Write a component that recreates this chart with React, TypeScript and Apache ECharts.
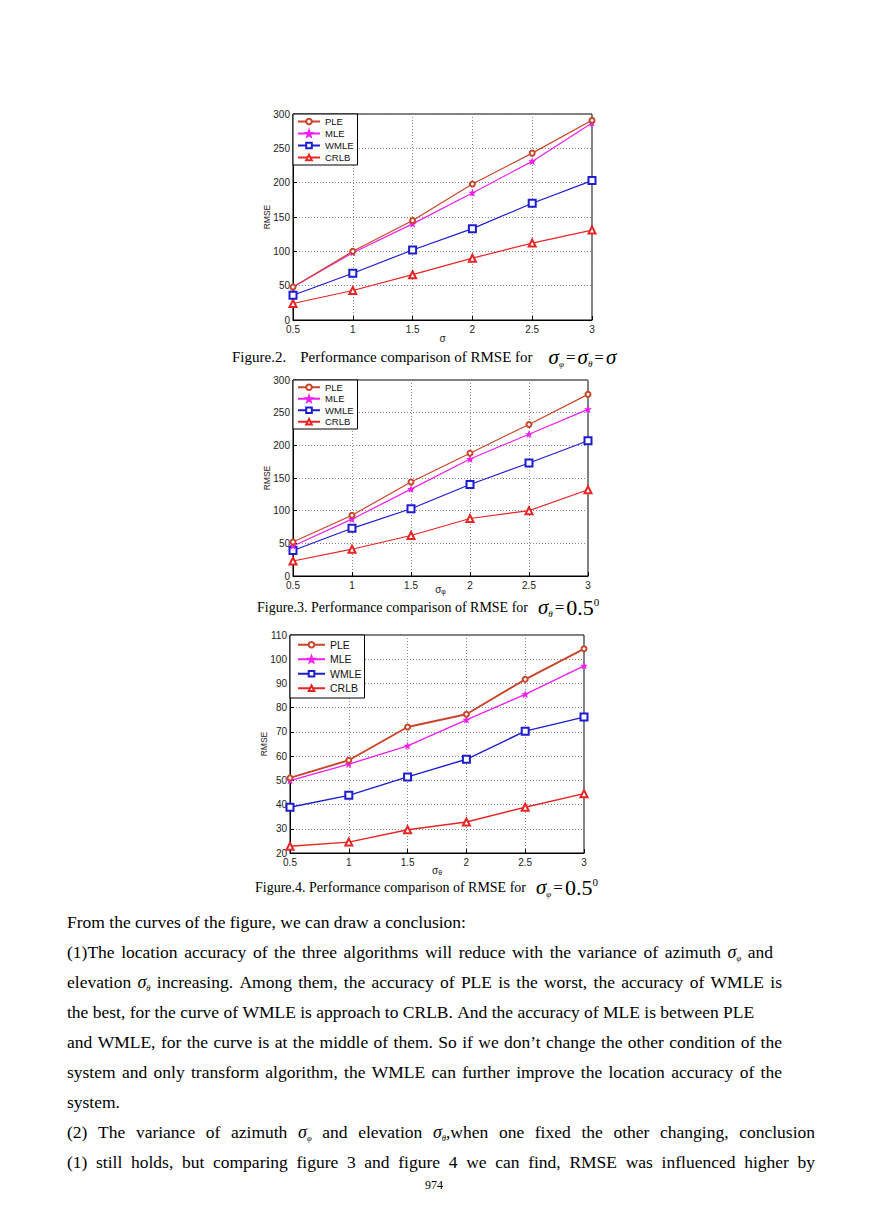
import React, { useEffect, useRef } from "react";
import * as echarts from "echarts";

// ---------- data ----------
const sigmaValues = [0.5, 1, 1.5, 2, 2.5, 3];
const seriesNames = ["PLE", "MLE", "WMLE", "CRLB"];
const rmseTicksFig23 = [0, 50, 100, 150, 200, 250, 300];
const rmseTicksFig4 = [20, 30, 40, 50, 60, 70, 80, 90, 100, 110];

const fig2PLE = [48, 100, 145, 198, 243, 291];
const fig2MLE = [48, 98, 140, 185, 231, 287];
const fig2WMLE = [36, 68, 102, 133, 170, 203];
const fig2CRLB = [24, 43, 66, 90, 112, 131];

const fig3PLE = [52, 93, 144, 188, 232, 278];
const fig3MLE = [46, 87, 133, 179, 217, 255];
const fig3WMLE = [39, 73, 103, 140, 173, 207];
const fig3CRLB = [23, 41, 62, 88, 100, 132];

const fig4PLE = [51, 58.3, 72, 77.3, 91.7, 104.3];
const fig4MLE = [49.9, 56.7, 64.2, 75, 85.5, 97.3];
const fig4WMLE = [38.9, 43.8, 51.4, 58.7, 70.3, 76.1];
const fig4CRLB = [22.8, 24.5, 29.6, 32.8, 38.9, 44.5];

// body text; "§p" = σ with φ subscript, "§t" = σ with θ subscript
const bodyLines = [
  "From the curves of the figure, we can draw a conclusion:",
  "(1)The location accuracy of the three algorithms will reduce with the variance of azimuth §p and",
  "elevation §t increasing. Among them, the accuracy of PLE is the worst, the accuracy of WMLE is",
  "the best, for the curve of WMLE is approach to CRLB. And the accuracy of MLE is between PLE",
  "and WMLE, for the curve is at the middle of them. So if we don\u2019t change the other condition of the",
  "system and only transform algorithm, the WMLE can further improve the location accuracy of the",
  "system.",
  "(2) The variance of azimuth §p and elevation §t,when one fixed the other changing, conclusion",
  "(1) still holds, but comparing figure 3 and figure 4 we can find, RMSE was influenced higher by",
];
// right edge of each justified line (null = ragged)
const bodyRightEdge = [null, 773, 782, null, 782, 782, null, 815, 815];

// ---------- styles ----------
const SANS = '"Liberation Sans", Arial, Helvetica, sans-serif';
const SERIF = '"Liberation Serif", "Times New Roman", serif';
const STAR = "path://M0,-10 L2.4,-3.3 L9.5,-3.1 L3.9,1.3 L5.9,8.1 L0,4.1 L-5.9,8.1 L-3.9,1.3 L-9.5,-3.1 L-2.4,-3.3 Z";
const BODY_SIZE = 17.5;
const SIG_SIZE = 18;
const SUB_SIZE = 8.5;
const BODY_LEFT = 67;
const BODY_TOP = 922;
const BODY_STEP = 30;

const seriesLook: Record<string, any> = {
  PLE: { color: "#c8452a", symbol: "emptyCircle", symbolSize: 5 },
  MLE: { color: "#f020f0", symbol: STAR, symbolSize: 5 },
  WMLE: { color: "#1c1cd0", symbol: "emptyRect", symbolSize: 7 },
  CRLB: { color: "#e82424", symbol: "emptyTriangle", symbolSize: 7 },
};

const figures = [
  { data: [fig2PLE, fig2MLE, fig2WMLE, fig2CRLB], ticks: rmseTicksFig23, grid: { left: 293, top: 114, width: 299, height: 206 }, xname: "{a|σ}", nameGap: 13, lw: 1.2 },
  { data: [fig3PLE, fig3MLE, fig3WMLE, fig3CRLB], ticks: rmseTicksFig23, grid: { left: 293, top: 380, width: 295, height: 196 }, xname: "{a|σ}{b|φ}", nameGap: 8, lw: 1.2 },
  { data: [fig4PLE, fig4MLE, fig4WMLE, fig4CRLB], ticks: rmseTicksFig4, grid: { left: 290, top: 635, width: 294, height: 218 }, xname: "{a|σ}{b|θ}", nameGap: 12, lw: 1.4 },
];

const legendLook = [
  { left: 293, top: 114, fontSize: 9.5, lineHeight: 11, itemWidth: 22, padding: [2, 4, 2, 4] },
  { left: 293, top: 380, fontSize: 9.5, lineHeight: 10.5, itemWidth: 22, padding: [2, 4, 2, 4] },
  { left: 290, top: 635, fontSize: 10.5, lineHeight: 13.5, itemWidth: 27, padding: [3, 3, 3, 7] },
];

function richText(x: number, y: number, text: string, rich: any) {
  return {
    type: "text",
    x,
    y,
    style: {
      text,
      rich,
      fill: "#000",
      fontFamily: SERIF,
      fontSize: BODY_SIZE,
      align: "left",
      verticalAlign: "middle",
      textAlign: "left",
      textVerticalAlign: "middle",
    },
  };
}

const captionRich = (size: number, gap: number) => ({
  t: { fontFamily: SERIF, fontSize: size, color: "#000", lineHeight: 22 },
  g: { width: 14 },
  g2: { width: gap },
  s: { fontFamily: SERIF, fontSize: 21, fontStyle: "italic", color: "#000", lineHeight: 22 },
  sub: { fontFamily: SERIF, fontSize: 9, fontStyle: "italic", color: "#000", verticalAlign: "bottom", lineHeight: 9 },
  eq: { fontFamily: SERIF, fontSize: 17, color: "#000", lineHeight: 22, padding: [0, 2, 0, 2] },
  n: { fontFamily: SERIF, fontSize: 22, color: "#000", lineHeight: 22 },
  sup: { fontFamily: SERIF, fontSize: 11, color: "#000", verticalAlign: "top", lineHeight: 10 },
});

const bodyRichBase: any = {
  t: { fontFamily: SERIF, fontSize: BODY_SIZE, color: "#000", lineHeight: 20 },
  s: { fontFamily: SERIF, fontSize: SIG_SIZE, fontStyle: "italic", color: "#000", lineHeight: 20 },
  sub: { fontFamily: SERIF, fontSize: SUB_SIZE, fontStyle: "italic", color: "#000", verticalAlign: "bottom", lineHeight: 8 },
};

// measure helper for justified lines
let measureCtx: CanvasRenderingContext2D | null = null;
function measure(text: string, font: string): number {
  if (!measureCtx) measureCtx = document.createElement("canvas").getContext("2d");
  if (!measureCtx) return text.length * 8;
  measureCtx.font = font;
  return measureCtx.measureText(text).width;
}

type Piece = { text: string; tok: string };
function wordPieces(word: string): Piece[] {
  const out: Piece[] = [];
  let rest = word;
  while (rest.length) {
    const i = rest.indexOf("§");
    if (i < 0) {
      out.push({ text: rest, tok: "t" });
      break;
    }
    if (i > 0) out.push({ text: rest.slice(0, i), tok: "t" });
    const kind = rest[i + 1];
    out.push({ text: "σ", tok: "s" });
    out.push({ text: kind === "p" ? "φ" : "θ", tok: "sub" });
    rest = rest.slice(i + 2);
  }
  return out;
}

function buildLine(line: string, right: number | null, rich: any): string {
  const words = line.split(" ").map(wordPieces);
  const fontOf = (tok: string) => {
    const r = rich[tok];
    return `${r.fontStyle === "italic" ? "italic " : ""}${r.fontSize}px ${SERIF}`;
  };
  let gap = measure(" ", fontOf("t"));
  if (right !== null && words.length > 1) {
    let total = 0;
    words.forEach((w) => w.forEach((p) => (total += measure(p.text, fontOf(p.tok)))));
    gap = Math.max(gap * 0.8, (right - BODY_LEFT - total) / (words.length - 1));
  }
  rich.j = { width: gap };
  return words.map((w) => w.map((p) => `{${p.tok}|${p.text}}`).join("")).join("{j| }");
}

export default function App() {
  const ref = useRef<HTMLDivElement>(null);

  useEffect(() => {
    if (!ref.current) return;
    const chart = echarts.init(ref.current, undefined, { renderer: "svg" });

    const grids: any[] = [];
    const xAxes: any[] = [];
    const yAxes: any[] = [];
    const series: any[] = [];
    const legends: any[] = [];

    figures.forEach((fig, gi) => {
      grids.push({ ...fig.grid, show: true, borderColor: "#000", borderWidth: 1, backgroundColor: "#fff" });
      xAxes.push({
        gridIndex: gi,
        type: "value",
        min: sigmaValues[0],
        max: sigmaValues[sigmaValues.length - 1],
        interval: 0.5,
        name: fig.xname,
        nameLocation: "middle",
        nameGap: fig.nameGap,
        nameMoveOverlap: false,
        nameTextStyle: {
          color: "#222",
          fontFamily: SANS,
          rich: {
            a: { fontSize: 10, fontFamily: SANS, color: "#222", lineHeight: 11 },
            b: { fontSize: 7, fontFamily: SANS, color: "#222", verticalAlign: "bottom", lineHeight: 6 },
          },
        },
        axisLine: { show: true, lineStyle: { color: "#000", width: 1 } },
        axisTick: { show: true, inside: true, length: 4, lineStyle: { color: "#000" } },
        axisLabel: { color: "#222", fontSize: 10, fontFamily: SANS, margin: 4, formatter: (v: number) => String(v) },
        splitLine: { show: true, lineStyle: { color: "#8a8a8a", type: [1, 2], width: 1 } },
      });
      yAxes.push({
        gridIndex: gi,
        type: "value",
        min: fig.ticks[0],
        max: fig.ticks[fig.ticks.length - 1],
        interval: fig.ticks[1] - fig.ticks[0],
        name: "RMSE",
        nameLocation: "middle",
        nameGap: 22,
        nameMoveOverlap: false,
        nameTextStyle: { color: "#222", fontFamily: SANS, fontSize: 8.5 },
        axisLine: { show: true, lineStyle: { color: "#000", width: 1 } },
        axisTick: { show: true, inside: true, length: 4, lineStyle: { color: "#000" } },
        axisLabel: { color: "#222", fontSize: 10, fontFamily: SANS, margin: 3 },
        splitLine: { show: true, lineStyle: { color: "#8a8a8a", type: [1, 2], width: 1 } },
      });
      fig.data.forEach((vals, si) => {
        const name = seriesNames[si];
        const look = seriesLook[name];
        series.push({
          type: "line",
          name,
          xAxisIndex: gi,
          yAxisIndex: gi,
          data: sigmaValues.map((x, k) => [x, vals[k]]),
          symbol: look.symbol,
          symbolSize: look.symbolSize,
          showSymbol: true,
          lineStyle: { color: look.color, width: gi === 2 && name === "PLE" ? 1.9 : fig.lw },
          itemStyle: { color: look.color, borderColor: look.color, borderWidth: 1.1 },
          z: 5 - si,
        });
      });
      const lg = legendLook[gi];
      legends.push({
        data: seriesNames,
        left: lg.left,
        top: lg.top,
        orient: "vertical",
        backgroundColor: "#fff",
        borderColor: "#000",
        borderWidth: 1,
        borderRadius: 0,
        padding: lg.padding,
        itemGap: 1,
        itemWidth: lg.itemWidth,
        itemHeight: 7,
        selectedMode: false,
        textStyle: { fontSize: lg.fontSize, fontFamily: SANS, color: "#111", lineHeight: lg.lineHeight },
      });
    });

    const bodyGraphics = bodyLines.map((line, i) => {
      const rich: any = { ...bodyRichBase };
      const text = buildLine(line, bodyRightEdge[i], rich);
      return richText(BODY_LEFT, BODY_TOP + i * BODY_STEP, text, rich);
    });

    const graphic: any[] = [
      richText(232, 357, "{t|Figure.2.}{g| }{t|Performance comparison of RMSE for}{g2| }{s|σ}{sub|φ}{eq|=}{s|σ}{sub|θ}{eq|=}{s|σ}", captionRich(15, 16)),
      richText(257, 607, "{t|Figure.3. Performance comparison of RMSE for}{g2| }{s|σ}{sub|θ}{eq|=}{n|0.5}{sup|0}", captionRich(14, 10)),
      richText(255, 887, "{t|Figure.4. Performance comparison of RMSE for}{g2| }{s|σ}{sub|φ}{eq|=}{n|0.5}{sup|0}", captionRich(14, 10)),
      ...bodyGraphics,
      {
        type: "text",
        x: 434,
        y: 1185,
        style: { text: "974", fontFamily: SERIF, fontSize: 12, fill: "#000", align: "center", verticalAlign: "middle", textAlign: "center", textVerticalAlign: "middle" },
      },
    ];

    chart.setOption({
      animation: false,
      backgroundColor: "#fff",
      grid: grids,
      xAxis: xAxes,
      yAxis: yAxes,
      legend: legends,
      series,
      graphic,
    });

    return () => chart.dispose();
  }, []);

  return (
    <div
      ref={ref}
      style={{ position: "absolute", left: 0, top: 0, width: 869, height: 1228, background: "#fff" }}
    />
  );
}
